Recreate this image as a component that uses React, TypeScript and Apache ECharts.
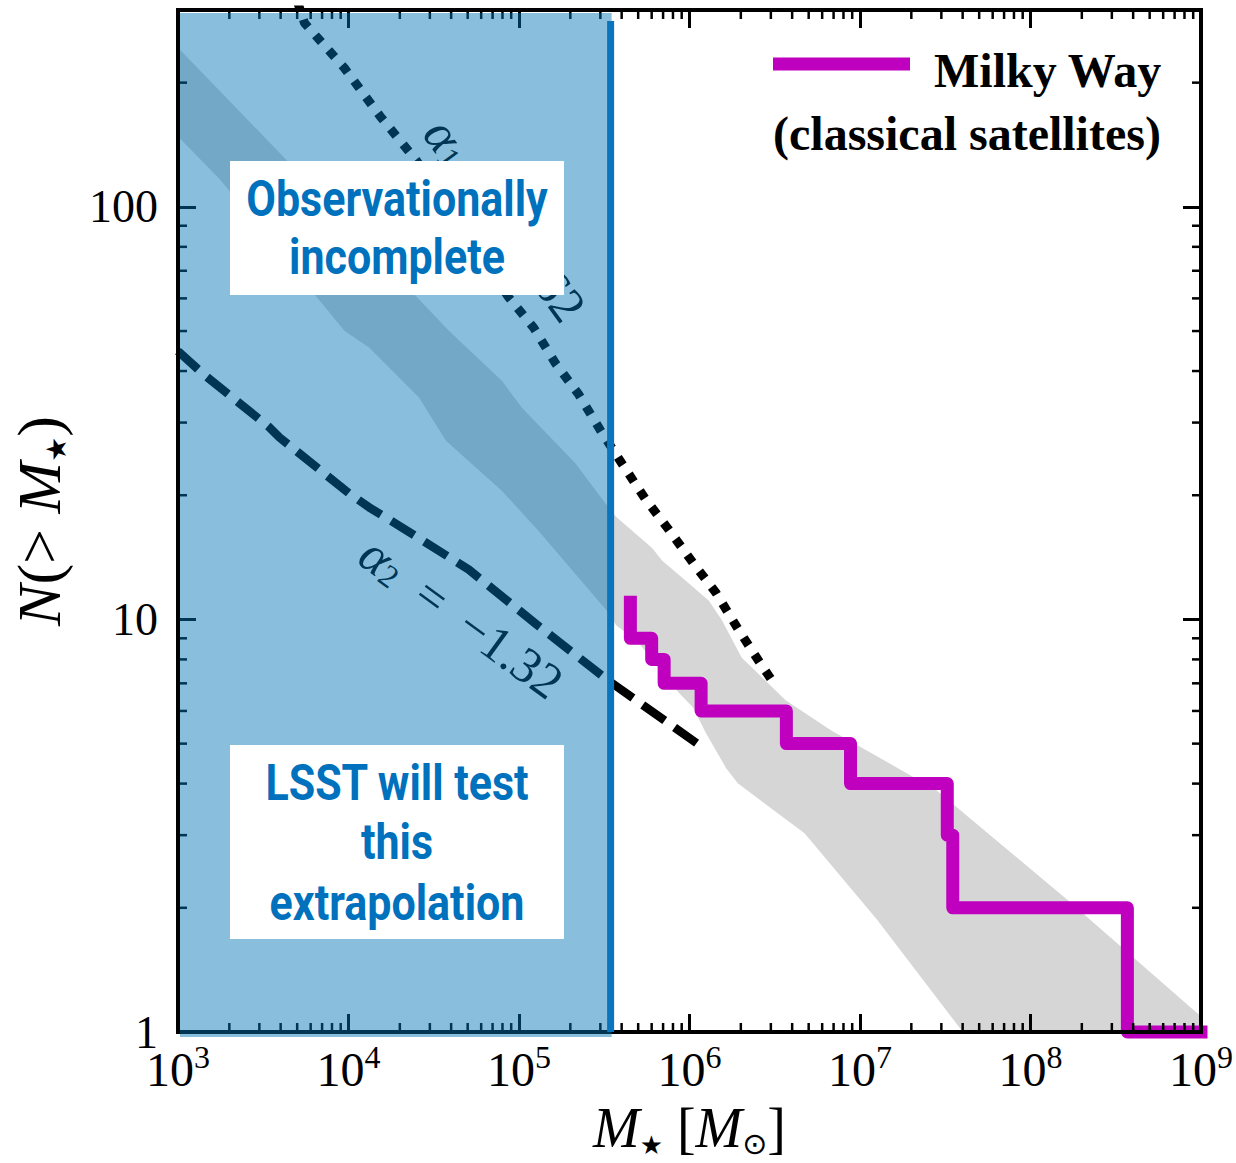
import React, { useEffect, useRef } from 'react';
import * as echarts from 'echarts';

// ---------- axis ranges ----------
const xMin = 1e3;
const xMax = 1e9;
const yMin = 1;
const yMax = 300;
const completenessMass = 3.4e5;
const minorMultipliers = [2, 3, 4, 5, 6, 7, 8, 9];

// ---------- Milky Way classical satellites (cumulative step) ----------
const mwMass = [4.5e5, 4.5e5, 6.0e5, 7.1e5, 1.17e6, 3.7e6, 8.8e6, 3.25e7, 3.5e7, 3.7e8, 1e9];
const mwCount = [11, 9, 8, 7, 6, 5, 4, 3, 2, 1, 1];

// ---------- alpha2 = -1.32 extrapolation (dashed) ----------
const dashedMass = [1e3, 1.4e3, 3.44e3, 3.94e3, 1.01e4, 1.32e4, 2.06e4, 5.08e4, 1.25e5, 3.34e5, 1.15e6];
const dashedCount = [44.7, 39.4, 29.2, 27.6, 20.2, 18.7, 16.7, 13.2, 9.77, 7.11, 4.95];

// ---------- alpha1 = -1.62 extrapolation (dotted) ----------
const dottedMass = [5.0e3, 5.52e3, 9.46e3, 1.53e4, 2.52e4, 8.71e4, 1.22e5, 1.64e5, 2.23e5, 3.04e5, 3.51e5, 3.98e5, 5.5e5, 7.48e5, 1.05e6, 1.43e6, 1.92e6, 2.58e6, 3.05e6];
const dottedCount = [316, 279, 217, 166, 129, 60.3, 50.9, 41.7, 35.2, 28.5, 26.0, 24.0, 19.6, 16.6, 13.7, 11.6, 9.5, 7.87, 7.1];

// ---------- gray scatter band ----------
const bandUpperMass = [1e3, 4.4e3, 3.88e4, 7.93e4, 1.04e5, 2.14e5, 3.34e5, 3.72e5, 6.04e5, 6.9e5, 9.55e5, 1.3e6, 1.55e6, 2.02e6, 3.66e6, 6.79e6, 1.67e7, 2.82e7, 1.65e8, 1e9];
const bandUpperCount = [243, 129, 50.1, 37.9, 32.6, 23.9, 18.7, 17.7, 14.9, 13.9, 12.4, 11.1, 9.95, 8.09, 6.37, 5.38, 4.36, 3.85, 2.09, 1.09];
const bandLowerMass = [1e3, 1.78e3, 9.46e3, 1.32e4, 2.59e4, 3.73e4, 7.93e4, 1.3e5, 3.34e5, 3.72e5, 4.89e5, 8.71e5, 1.05e6, 1.25e6, 1.64e6, 1.92e6, 3.29e6, 4.73e6, 1.26e7, 4.01e7, 1e9];
const bandLowerCount = [148, 116, 50.1, 45.6, 34.5, 27.1, 20.5, 16.4, 10.4, 9.66, 8.9, 6.62, 6.12, 5.3, 4.36, 4.01, 3.39, 3.03, 1.87, 1.0, 1.0];

// ---------- inline labels on the power-law lines ----------
const slopeLabelValues = ['1.62', '1.32'];
const slopeLabelIndex = ['1', '2'];
const slopeLabelAnchors = [
  { mass: 8.3e4, count: 93, angle: 54 },
  { mass: 4.6e4, count: 10.1, angle: 36 },
];

const serif = '"Liberation Serif", "Times New Roman", serif';
const boxFont = 'bold 50px Roboto, "Noto Sans", sans-serif';
const boxScaleX = 0.86;
const boxBlue = '#0071bc';

const isDecade = (v: number) => Math.abs(Math.log10(v) - Math.round(Math.log10(v))) < 1e-6;

const axisCommon: any = {
  type: 'log',
  logBase: 10,
  z: 3,
  axisLine: { show: true, onZero: false, lineStyle: { color: '#000', width: 4, cap: 'square' } },
  axisTick: { show: true, inside: true, length: 18, lineStyle: { color: '#000', width: 3 } },
  splitLine: { show: false },
  minorTick: { show: false },
  minorSplitLine: { show: false },
};

function buildOption(): any {
  const xMinorTicks: number[] = [];
  for (let d = Math.log10(xMin); d < Math.log10(xMax); d++) {
    minorMultipliers.forEach((m) => xMinorTicks.push(m * Math.pow(10, d)));
  }
  const yMinorTicks: number[] = [];
  for (let d = 0; d < 3; d++) {
    minorMultipliers.forEach((m) => {
      const v = m * Math.pow(10, d);
      if (v < yMax) yMinorTicks.push(v);
    });
  }

  const dummy = [[xMin, yMin]];

  const boxText = (text: string, y: number) => ({
    type: 'text',
    z: 21,
    x: 397,
    y,
    scaleX: boxScaleX,
    style: { text, font: boxFont, fill: boxBlue, align: 'center', verticalAlign: 'middle' },
  });

  return {
    animation: false,
    backgroundColor: '#ffffff',
    grid: { left: 178, right: 31, top: 10, bottom: 131, containLabel: false },
    xAxis: [
      {
        ...axisCommon,
        min: xMin,
        max: xMax,
        position: 'bottom',
        axisLabel: {
          show: true,
          margin: 9,
          formatter: (v: number) => (isDecade(v) ? `{b|10}{e|${Math.round(Math.log10(v))}}` : ''),
          rich: {
            b: { fontFamily: serif, fontSize: 48, color: '#000', lineHeight: 52, verticalAlign: 'bottom' },
            e: { fontFamily: serif, fontSize: 32, color: '#000', lineHeight: 20, verticalAlign: 'top' },
          },
        },
        name: '{i|M}{s|★}{r| [}{i|M}{o|⊙}{r|]}',
        nameLocation: 'middle',
        nameGap: 66,
        nameTextStyle: {
          rich: {
            i: { fontFamily: serif, fontStyle: 'italic', fontSize: 56, color: '#000', lineHeight: 60 },
            r: { fontFamily: serif, fontSize: 56, color: '#000', lineHeight: 60 },
            s: { fontFamily: '"DejaVu Sans", sans-serif', fontSize: 26, color: '#000', lineHeight: 26, verticalAlign: 'bottom' },
            o: { fontFamily: '"DejaVu Sans", sans-serif', fontSize: 30, color: '#000', lineHeight: 26, verticalAlign: 'bottom' },
          },
        },
      },
      {
        ...axisCommon,
        min: xMin,
        max: xMax,
        position: 'top',
        axisLabel: { show: false },
      },
    ],
    yAxis: [
      {
        ...axisCommon,
        min: yMin,
        max: yMax,
        position: 'left',
        axisLabel: {
          show: true,
          margin: 20,
          formatter: (v: number) => (isDecade(v) ? String(Math.round(v)) : ''),
          fontFamily: serif,
          fontSize: 46,
          lineHeight: 24,
          color: '#000',
        },
        name: '{i|N}{r|(> }{i|M}{s|★}{r|)}',
        nameLocation: 'middle',
        nameGap: 108,
        nameRotate: 90,
        nameTextStyle: {
          rich: {
            i: { fontFamily: serif, fontStyle: 'italic', fontSize: 62, color: '#000', lineHeight: 62 },
            r: { fontFamily: serif, fontSize: 62, color: '#000', lineHeight: 62 },
            s: { fontFamily: '"DejaVu Sans", sans-serif', fontSize: 28, color: '#000', lineHeight: 26, verticalAlign: 'bottom' },
          },
        },
      },
      {
        ...axisCommon,
        min: yMin,
        max: yMax,
        position: 'right',
        axisLabel: { show: false },
      },
    ],
    series: [
      // gray band
      {
        type: 'custom',
        coordinateSystem: 'cartesian2d',
        data: dummy,
        encode: { x: 0, y: 1 },
        clip: true,
        silent: true,
        z: 1,
        renderItem: (_p: any, api: any) => {
          const pts: number[][] = [];
          bandUpperMass.forEach((m, i) => pts.push(api.coord([m, bandUpperCount[i]])));
          for (let i = bandLowerMass.length - 1; i >= 0; i--) pts.push(api.coord([bandLowerMass[i], bandLowerCount[i]]));
          return { type: 'polygon', shape: { points: pts }, style: { fill: '#d6d6d6' } };
        },
      },
      // dashed alpha2 line
      {
        type: 'line',
        data: dashedMass.map((m, i) => [m, dashedCount[i]]),
        showSymbol: false,
        silent: true,
        clip: true,
        z: 2,
        lineStyle: { color: '#000', width: 8.5, type: [27, 12], cap: 'butt' },
      },
      // dotted alpha1 line
      {
        type: 'line',
        data: dottedMass.map((m, i) => [m, dottedCount[i]]),
        showSymbol: false,
        silent: true,
        clip: true,
        z: 2,
        lineStyle: { color: '#000', width: 9, type: [9, 11], cap: 'butt' },
      },
      // Milky Way step
      {
        type: 'line',
        name: 'Milky Way',
        step: 'end',
        data: mwMass.map((m, i) => [m, mwCount[i]]),
        showSymbol: false,
        silent: true,
        clip: false,
        z: 2,
        lineStyle: { color: '#bf00bf', width: 13, cap: 'square', join: 'round' },
      },
      // inline labels
      {
        type: 'custom',
        coordinateSystem: 'cartesian2d',
        data: dummy,
        encode: { x: 0, y: 1 },
        silent: true,
        z: 2,
        renderItem: (_p: any, api: any) => ({
          type: 'group',
          children: slopeLabelAnchors.map((a, k) => {
            const c = api.coord([a.mass, a.count]);
            return {
              type: 'text',
              x: c[0],
              y: c[1],
              rotation: (-a.angle * Math.PI) / 180,
              style: {
                text: `{a|α}{s|${slopeLabelIndex[k]}}{t|  =  −${slopeLabelValues[k]}}`,
                align: 'center',
                verticalAlign: 'middle',
                fill: '#000',
                rich: {
                  a: { fontFamily: serif, fontStyle: 'italic', fontSize: 52, fill: '#000', lineHeight: 50 },
                  s: { fontFamily: serif, fontSize: 32, fill: '#000', lineHeight: 30, verticalAlign: 'bottom' },
                  t: { fontFamily: serif, fontSize: 50, fill: '#000', lineHeight: 50 },
                },
              },
            };
          }),
        }),
      },
      // minor ticks on all four sides
      {
        type: 'custom',
        coordinateSystem: 'cartesian2d',
        data: dummy,
        encode: { x: 0, y: 1 },
        silent: true,
        z: 3,
        renderItem: (_p: any, api: any) => {
          const children: any[] = [];
          const st = { stroke: '#000', lineWidth: 2.5 };
          xMinorTicks.forEach((v) => {
            const b = api.coord([v, yMin]);
            const t = api.coord([v, yMax]);
            children.push({ type: 'line', shape: { x1: b[0], y1: b[1], x2: b[0], y2: b[1] - 9 }, style: st });
            children.push({ type: 'line', shape: { x1: t[0], y1: t[1], x2: t[0], y2: t[1] + 9 }, style: st });
          });
          yMinorTicks.forEach((v) => {
            const l = api.coord([xMin, v]);
            const r = api.coord([xMax, v]);
            children.push({ type: 'line', shape: { x1: l[0], y1: l[1], x2: l[0] + 9, y2: l[1] }, style: st });
            children.push({ type: 'line', shape: { x1: r[0], y1: r[1], x2: r[0] - 9, y2: r[1] }, style: st });
          });
          return { type: 'group', children };
        },
      },
      // observational incompleteness overlay + boundary line
      {
        type: 'custom',
        coordinateSystem: 'cartesian2d',
        data: dummy,
        encode: { x: 0, y: 1 },
        silent: true,
        clip: false,
        z: 5,
        renderItem: (_p: any, api: any) => {
          const tl = api.coord([xMin, yMax]);
          const br = api.coord([completenessMass, yMin]);
          return {
            type: 'group',
            children: [
              {
                type: 'rect',
                shape: { x: tl[0] + 2, y: tl[1] + 3, width: br[0] - tl[0], height: br[1] + 5 - (tl[1] + 3) },
                style: { fill: 'rgba(0,114,181,0.463)' },
              },
              {
                type: 'line',
                shape: { x1: br[0] + 1, y1: tl[1] + 11, x2: br[0] + 1, y2: br[1] },
                style: { stroke: '#0a74bd', lineWidth: 7 },
              },
            ],
          };
        },
      },
    ],
    graphic: [
      { type: 'rect', z: 20, shape: { x: 230, y: 161, width: 334, height: 134 }, style: { fill: '#ffffff' } },
      boxText('Observationally', 199),
      boxText('incomplete', 257),
      { type: 'rect', z: 20, shape: { x: 230, y: 745, width: 334, height: 194 }, style: { fill: '#ffffff' } },
      boxText('LSST will test', 783),
      boxText('this', 842),
      boxText('extrapolation', 903),
      // legend
      { type: 'line', z: 20, shape: { x1: 773, y1: 64, x2: 910, y2: 64 }, style: { stroke: '#bf00bf', lineWidth: 13 } },
      { type: 'text', z: 21, x: 934, y: 70, style: { text: 'Milky Way', font: `bold 48px ${serif}`, fill: '#000', align: 'left', verticalAlign: 'middle' } },
      { type: 'text', z: 21, x: 773, y: 133, style: { text: '(classical satellites)', font: `bold 48px ${serif}`, fill: '#000', align: 'left', verticalAlign: 'middle' } },
    ],
  };
}

export default function App() {
  const ref = useRef<HTMLDivElement>(null);
  useEffect(() => {
    document.body.style.margin = '0';
    const chart = echarts.init(ref.current as HTMLDivElement, null, { renderer: 'svg' });
    chart.setOption(buildOption());
    return () => chart.dispose();
  }, []);
  return <div ref={ref} style={{ width: 1236, height: 1163 }} />;
}
